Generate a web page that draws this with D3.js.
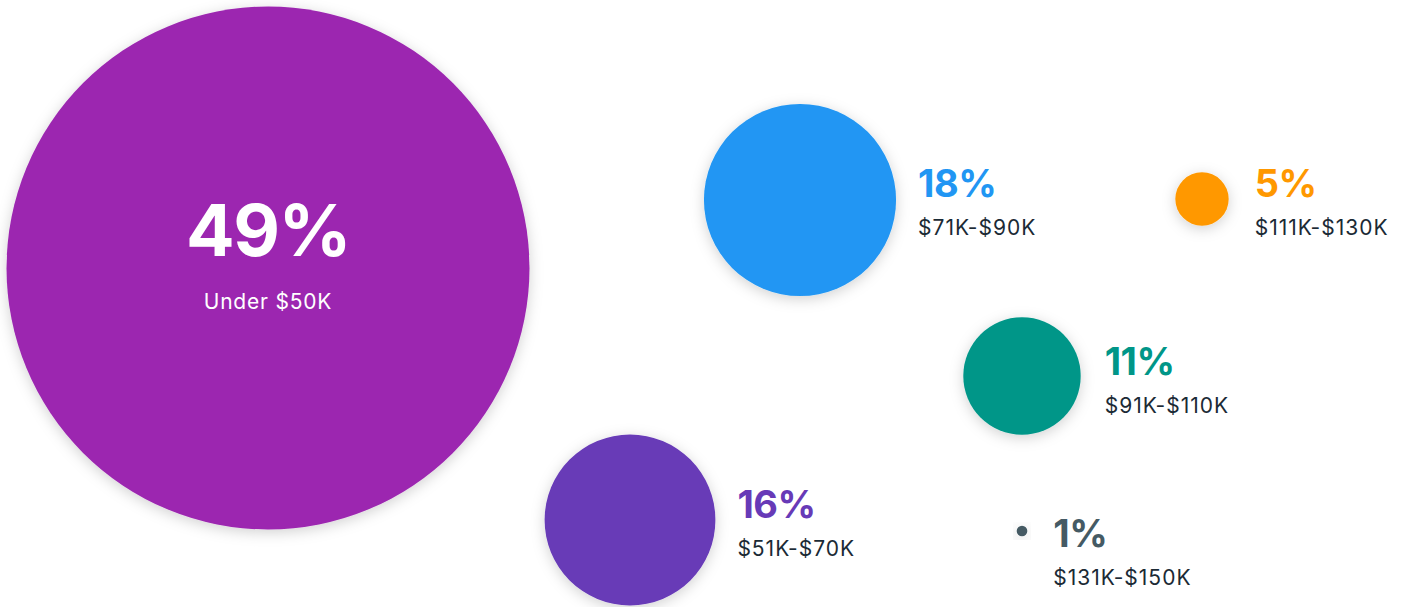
<!DOCTYPE html>
<html>
<head>
<meta charset="utf-8">
<script src="https://cdn.jsdelivr.net/npm/d3@7"></script>
<style>
  html, body { margin: 0; padding: 0; background: #fff; }
  svg { display: block; font-family: Inter, "Noto Sans", sans-serif; }
</style>
</head>
<body>
<div id="chart"></div>
<script>
// Data
const ranges = ["Under $50K", "$51K-$70K", "$71K-$90K", "$91K-$110K", "$111K-$130K", "$131K-$150K"];
const shares = [49, 16, 18, 11, 5, 1];
const colors = ["#9c27b0", "#673ab7", "#2196f3", "#009688", "#ff9800", "#455a64"];

// Layout (bubble centres, label offsets)
const centersX = [268, 630, 800, 1022, 1202, 1022];
const centersY = [268, 520, 200, 376, 199, 531];
const labelDx = [0, 0, 0, 2, 4, 4];
const labelDy = [0, -2, -3, -1, -2, 16];

const width = 1406, height = 607;

const svg = d3.select("#chart")
    .append("svg")
    .attr("width", width)
    .attr("height", height);

// Soft shadow
const filter = svg.append("defs").append("filter")
    .attr("id", "shadow")
    .attr("x", "-30%").attr("y", "-30%")
    .attr("width", "160%").attr("height", "160%");
filter.append("feDropShadow")
    .attr("dx", 0).attr("dy", 3)
    .attr("stdDeviation", 7)
    .attr("flood-color", "#000")
    .attr("flood-opacity", 0.18);

// Radius grows linearly with the share
const r = d3.scaleLinear().domain([0, 49]).range([0, 261.5]);

const data = shares.map((v, i) => ({
    value: v, range: ranges[i], color: colors[i],
    cx: centersX[i], cy: centersY[i], dx: labelDx[i], dy: labelDy[i]
}));

const g = svg.selectAll(".bubble")
    .data(data)
    .enter()
    .append("g")
    .attr("class", "bubble");

g.append("circle")
    .attr("cx", d => d.cx)
    .attr("cy", d => d.cy)
    .attr("r", d => r(d.value))
    .attr("fill", d => d.color)
    .attr("filter", "url(#shadow)");

// Largest bubble: label inside
const big = g.filter((d, i) => i === 0);
big.append("text")
    .attr("x", d => d.cx)
    .attr("y", d => d.cy - 12)
    .attr("text-anchor", "middle")
    .attr("fill", "#fff")
    .attr("font-size", 72)
    .attr("font-weight", 700)
    .attr("letter-spacing", "-1.5px")
    .text(d => d.value + "%");
big.append("text")
    .attr("x", d => d.cx)
    .attr("y", d => d.cy + 41)
    .attr("text-anchor", "middle")
    .attr("fill", "#fff")
    .attr("font-size", 21)
    .attr("letter-spacing", "0.8px")
    .text(d => d.range);

// Others: label to the right
const small = g.filter((d, i) => i > 0);
small.append("text")
    .attr("x", d => d.cx + r(d.value) + 22 + d.dx)
    .attr("y", d => d.cy + d.dy)
    .attr("fill", d => d.color)
    .attr("font-size", 38)
    .attr("font-weight", 700)
    .attr("letter-spacing", "-0.5px")
    .text(d => d.value + "%");
small.append("text")
    .attr("x", d => d.cx + r(d.value) + 22 + d.dx)
    .attr("y", d => d.cy + d.dy + 38)
    .attr("fill", "#1b2a35")
    .attr("font-size", 21)
    .attr("letter-spacing", "1px")
    .text(d => d.range);
</script>
</body>
</html>
